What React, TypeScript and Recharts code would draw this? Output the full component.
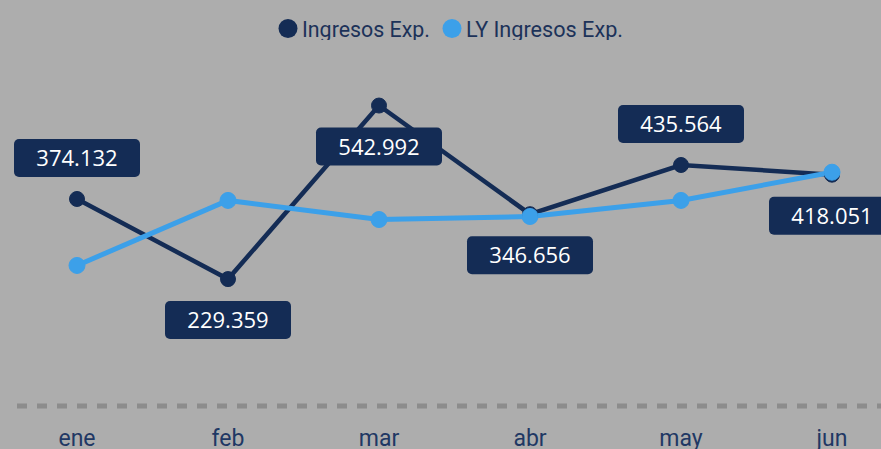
import React from "react";
import { LineChart, Line, XAxis, YAxis, Legend, LabelList } from "recharts";

const months = ["ene", "feb", "mar", "abr", "may", "jun"];
const ingresos = [374132, 229359, 542992, 346656, 435564, 418051];
const lyIngresos = [254000, 371500, 337000, 342500, 371500, 422500];

const data = months.map((m, i) => ({ month: m, ingresos: ingresos[i], ly: lyIngresos[i] }));

const DARK = "#142C55";
const LIGHT = "#3CA0E9";
const BG = "#ADADAD";
const TEXT = "#1C3259";

// label placement style: true = above the point
const LABEL_ABOVE = [true, false, false, false, true, false];

const fmt = (v: number) => {
  const s = Math.round(v).toString();
  return s.replace(/\B(?=(\d{3})+(?!\d))/g, ".");
};

const renderLabel = (props: any) => {
  const { x, y, value, index } = props;
  const w = 126;
  const h = 38;
  const above = LABEL_ABOVE[index];
  const top = above ? y - 22 - h : y + 22;
  return (
    <g>
      <rect x={x - w / 2} y={top} width={w} height={h} rx={5} ry={5} fill={DARK} />
      <text
        x={x}
        y={top + h / 2 + 8}
        textAnchor="middle"
        fill="#FFFFFF"
        fontFamily="'Open Sans', 'Noto Sans', sans-serif"
        fontSize={22}
      >
        {fmt(Number(value))}
      </text>
    </g>
  );
};

const Tick = (props: any) => {
  const { x, y, payload } = props;
  return (
    <text x={x} y={y + 40} textAnchor="middle" fill="#1F3864" fontFamily="Roboto, sans-serif" fontSize={23}>
      {payload.value}
    </text>
  );
};

const LegendContent = () => (
  <svg width={881} height={40} style={{ display: "block" }}>
    <circle cx={288} cy={28.5} r={9.5} fill={DARK} />
    <text x={302} y={36.5} fill={TEXT} fontFamily="Roboto, sans-serif" fontSize={21.5} textLength={128} lengthAdjust="spacingAndGlyphs">
      Ingresos Exp.
    </text>
    <circle cx={452} cy={28.5} r={9.5} fill={LIGHT} />
    <text x={466} y={36.5} fill={TEXT} fontFamily="Roboto, sans-serif" fontSize={21.5} textLength={157} lengthAdjust="spacingAndGlyphs">
      LY Ingresos Exp.
    </text>
  </svg>
);

export default function App() {
  return (
    <div
      style={{
        position: "absolute",
        left: 0,
        top: 0,
        width: 881,
        height: 449,
        overflow: "hidden",
        background: BG,
      }}
    >
      <LineChart width={900} height={449} data={data} margin={{ top: 34, right: 8, bottom: 0, left: 17 }}>
        <Legend
          verticalAlign="top"
          content={<LegendContent />}
          wrapperStyle={{ top: 0, left: 0, width: 881, height: 40, margin: 0, padding: 0 }}
        />
        <XAxis
          dataKey="month"
          padding={{ left: 60, right: 60 }}
          axisLine={{ stroke: "#8C8C8C", strokeWidth: 5, strokeDasharray: "10 10" }}
          tickLine={false}
          tickSize={0}
          tickMargin={0}
          tick={<Tick />}
          height={43}
          interval={0}
        />
        <YAxis hide domain={[0, 600000]} />
        <Line
          type="linear"
          dataKey="ingresos"
          stroke={DARK}
          strokeWidth={4.5}
          dot={{ r: 7.5, fill: DARK, stroke: DARK, strokeWidth: 1 }}
          activeDot={false}
          isAnimationActive={false}
        >
          <LabelList dataKey="ingresos" content={renderLabel} />
        </Line>
        <Line
          type="linear"
          dataKey="ly"
          stroke={LIGHT}
          strokeWidth={5}
          dot={{ r: 8, fill: LIGHT, stroke: LIGHT, strokeWidth: 1 }}
          activeDot={false}
          isAnimationActive={false}
        />
      </LineChart>
    </div>
  );
}
